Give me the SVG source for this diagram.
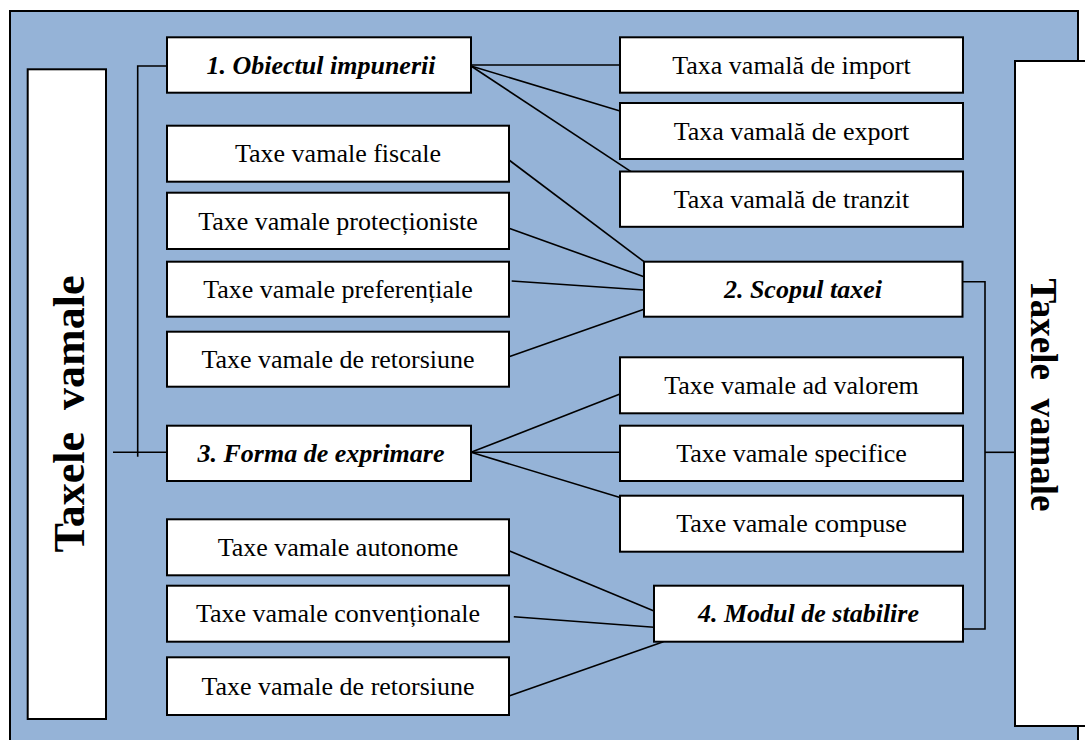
<svg xmlns="http://www.w3.org/2000/svg" width="1085" height="740" viewBox="0 0 1085 740">
<style>
.box{fill:#ffffff;stroke:#000000;stroke-width:2}
.frame{fill:#95B3D7;stroke:#000000;stroke-width:2}
.t{font-family:"Liberation Serif","Times New Roman",serif;font-size:26px;fill:#000;text-anchor:middle}
.c{font-weight:bold;font-style:italic}
.big{font-family:"Liberation Serif","Times New Roman",serif;font-weight:bold;fill:#000;text-anchor:middle}
.ln{stroke:#000;stroke-width:1.6;fill:none}
</style>
<rect x="0" y="0" width="1085" height="740" fill="#ffffff"/>
<rect class="frame" x="10" y="11" width="1068" height="745"/>

<g id="connectors">
<polyline class="ln" points="167,66 137.7,66 137.7,456.7"/>
<line class="ln" x1="113" y1="452.3" x2="167" y2="452.3"/>
<line class="ln" x1="471" y1="65" x2="620" y2="65"/>
<line class="ln" x1="471" y1="66" x2="620" y2="111"/>
<line class="ln" x1="471" y1="66" x2="631" y2="171.7"/>
<line class="ln" x1="509" y1="160" x2="644" y2="261.7"/>
<line class="ln" x1="509" y1="228.3" x2="644" y2="276.7"/>
<line class="ln" x1="511.7" y1="281" x2="644" y2="290"/>
<line class="ln" x1="509" y1="356.7" x2="644" y2="309.3"/>
<line class="ln" x1="471" y1="452.3" x2="620" y2="394"/>
<line class="ln" x1="471" y1="452.3" x2="620" y2="452.3"/>
<line class="ln" x1="471" y1="452.3" x2="620" y2="497.5"/>
<line class="ln" x1="509" y1="550.7" x2="654" y2="611"/>
<line class="ln" x1="513.8" y1="616.7" x2="654" y2="627.3"/>
<line class="ln" x1="509" y1="696" x2="663.4" y2="641.7"/>
<polyline class="ln" points="962.5,281.7 985,281.7 985,629 963,629"/>
<line class="ln" x1="985" y1="452.3" x2="1016" y2="452.3"/>
</g>

<g id="left-title">
<rect class="box" x="27.7" y="69.3" width="78.3" height="649.7"/>
<text class="big" font-size="44" xml:space="preserve" transform="translate(84,414) rotate(-90)">Taxele  vamale</text>
</g>

<g id="right-title">
<rect class="box" x="1015" y="61" width="80" height="665"/>
<text class="big" font-size="37" xml:space="preserve" transform="translate(1031,395) rotate(90)">Taxele  vamale</text>
</g>

<g id="obiectul">
<rect class="box" x="167" y="37.3" width="304" height="55.4"/>
<text class="t c" x="321" y="73.6">1. Obiectul impunerii</text>
</g>
<g id="fiscale">
<rect class="box" x="167" y="125.7" width="342" height="56"/>
<text class="t" x="338" y="162.3">Taxe vamale fiscale</text>
</g>
<g id="protectioniste">
<rect class="box" x="167" y="192.7" width="342" height="56.3"/>
<text class="t" x="338" y="229.5">Taxe vamale protecționiste</text>
</g>
<g id="preferentiale">
<rect class="box" x="167" y="261.7" width="342" height="55"/>
<text class="t" x="338" y="297.8">Taxe vamale preferențiale</text>
</g>
<g id="retorsiune1">
<rect class="box" x="167" y="331.7" width="342" height="55"/>
<text class="t" x="338" y="367.8">Taxe vamale de retorsiune</text>
</g>
<g id="forma">
<rect class="box" x="167" y="425.7" width="304" height="55.3"/>
<text class="t c" x="321" y="462">3. Forma de exprimare</text>
</g>
<g id="autonome">
<rect class="box" x="167" y="519.3" width="342" height="56"/>
<text class="t" x="338" y="555.9">Taxe vamale autonome</text>
</g>
<g id="conventionale">
<rect class="box" x="167" y="585.7" width="342" height="56"/>
<text class="t" x="338" y="622.3">Taxe vamale convenționale</text>
</g>
<g id="retorsiune2">
<rect class="box" x="167" y="657.3" width="342" height="57.7"/>
<text class="t" x="338" y="694.7">Taxe vamale de retorsiune</text>
</g>

<g id="import">
<rect class="box" x="620" y="37.3" width="343" height="55.4"/>
<text class="t" x="791.5" y="73.6">Taxa vamală de import</text>
</g>
<g id="export">
<rect class="box" x="620" y="103" width="343" height="56"/>
<text class="t" x="791.5" y="139.6">Taxa vamală de export</text>
</g>
<g id="tranzit">
<rect class="box" x="620" y="171.5" width="343" height="55.3"/>
<text class="t" x="791.5" y="207.8">Taxa vamală de tranzit</text>
</g>
<g id="scopul">
<rect class="box" x="644" y="261.7" width="318.5" height="55"/>
<text class="t c" x="803" y="297.8">2. Scopul taxei</text>
</g>
<g id="advalorem">
<rect class="box" x="620" y="357.3" width="343" height="56"/>
<text class="t" x="791.5" y="393.9">Taxe vamale ad valorem</text>
</g>
<g id="specifice">
<rect class="box" x="620" y="425.7" width="343" height="55.3"/>
<text class="t" x="791.5" y="462">Taxe vamale specifice</text>
</g>
<g id="compuse">
<rect class="box" x="620" y="495.7" width="343" height="56"/>
<text class="t" x="791.5" y="532.3">Taxe vamale compuse</text>
</g>
<g id="modul">
<rect class="box" x="654" y="585.7" width="309" height="56"/>
<text class="t c" x="808.5" y="622.3">4. Modul de stabilire</text>
</g>
</svg>
